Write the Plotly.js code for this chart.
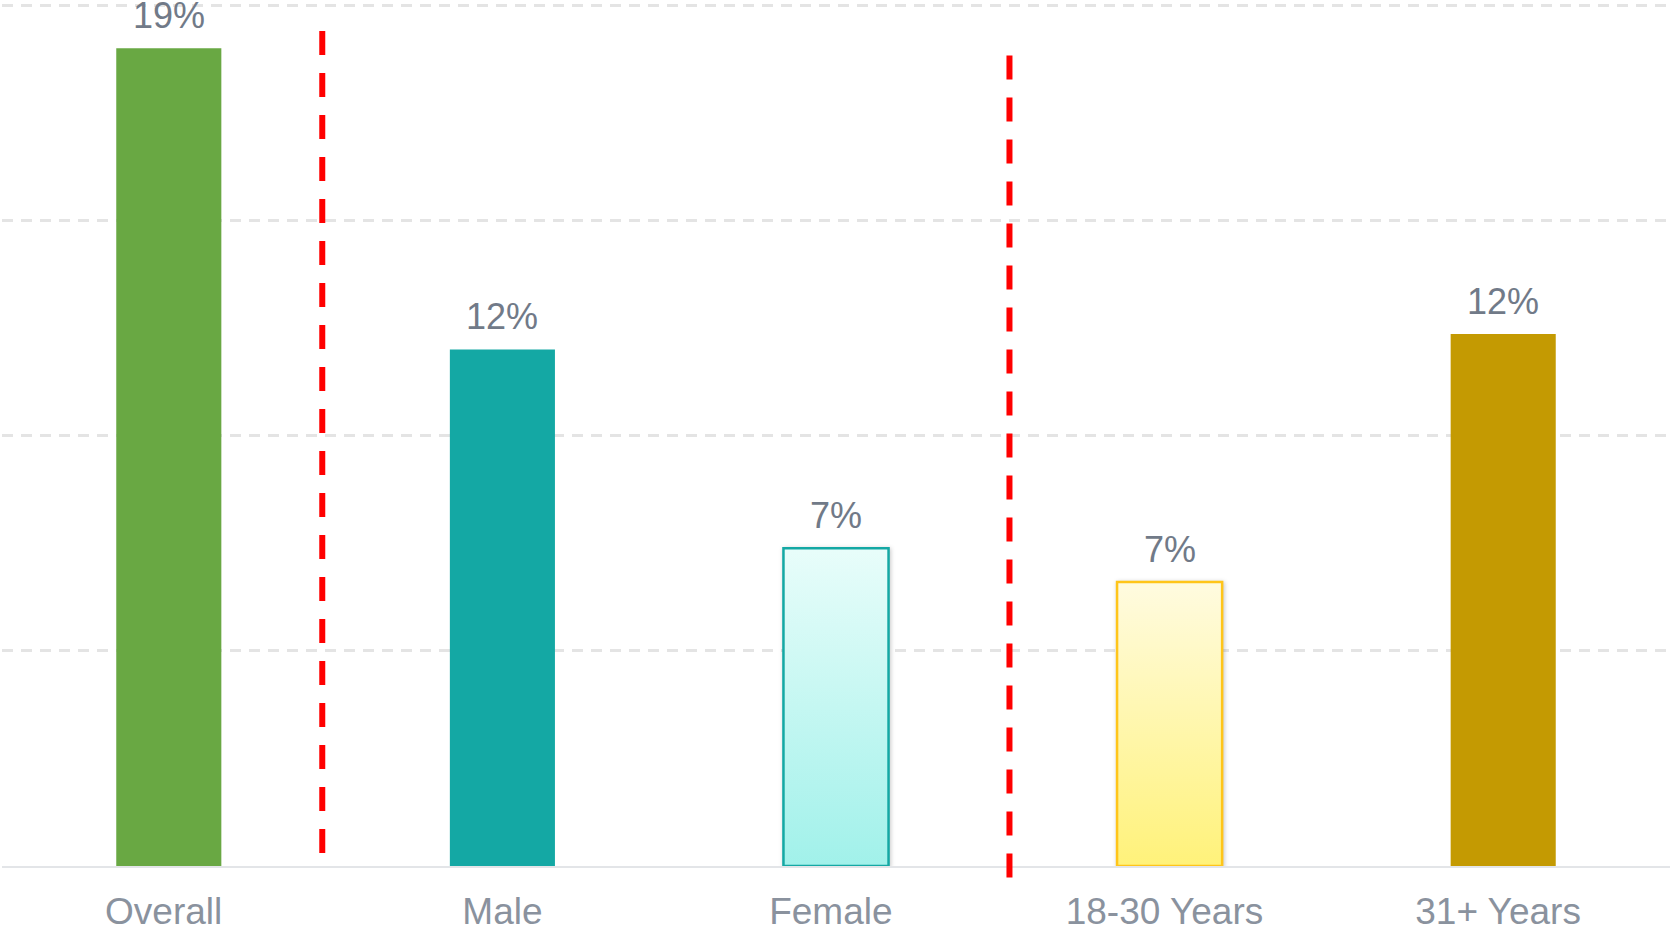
<!DOCTYPE html>
<html>
<head>
<meta charset="utf-8">
<script src="https://cdn.plot.ly/plotly-3.0.1.min.js"></script>
<style>
  html, body { margin: 0; padding: 0; background: #ffffff; }
  #chart { width: 1671px; height: 929px; }
</style>
</head>
<body>
<div id="chart"></div>
<script>
// ---- data ----
const categories = ["Overall", "Male", "Female", "18-30 Years", "31+ Years"];
const values = [19.0, 12.0, 7.38, 6.6, 12.36];
const valueLabels = ["19%", "12%", "7%", "7%", "12%"];

// ---- styles ----
const barColors = ["#69A843", "#14A8A4", "#C8F7F3", "#FFF6A8", "#C49A02"];
const lineColors = ["#69A843", "#14A8A4", "#14A8A4", "#FFC51A", "#C49A02"];
const lineWidths = [0, 0, 2.5, 2.5, 0];
const gradients = {
  2: { id: "gradFemale", top: "#E8FDFA", bottom: "#A1F1EA" },
  3: { id: "gradYoung", top: "#FFFBE0", bottom: "#FFF27A" }
};

const yMax = 20.05;
// separator lines: category-axis position, top & bottom in value units
const separators = [
  { x: 0.46, top: 19.4, bottom: 0.18 },
  { x: 2.52, top: 18.83, bottom: -0.31 }
];

const font = "Liberation Sans, Arial, sans-serif";
// labels sit slightly left of bar centres (except "Male")
const tickText = categories.map(c => c === "Male" ? c : c + "\u00a0");

const trace = {
  type: "bar",
  x: categories,
  y: values,
  marker: {
    color: barColors,
    line: { color: lineColors, width: lineWidths }
  },
  hoverinfo: "skip"
};

const annotations = categories.map((c, i) => ({
  x: c, y: values[i], xref: "x", yref: "y",
  text: valueLabels[i], showarrow: false,
  yanchor: "bottom", yshift: 10,
  font: { family: font, size: 36, color: "#717A88" }
}));

const shapes = separators.map(s => ({
  type: "line", xref: "x", yref: "paper",
  x0: s.x, x1: s.x, y0: s.top / yMax, y1: s.bottom / yMax,
  line: { color: "#FF0000", width: 6, dash: "24px,18px" },
  layer: "above"
}));

const layout = {
  width: 1671, height: 929,
  margin: { l: 2, r: 1, t: 3, b: 63 },
  paper_bgcolor: "#ffffff", plot_bgcolor: "#ffffff",
  bargap: 0.685,
  showlegend: false,
  xaxis: {
    type: "category",
    tickmode: "array", tickvals: categories, ticktext: tickText,
    showline: true, linecolor: "#E3E5E8", linewidth: 2,
    showgrid: false, zeroline: false, ticks: "",
    tickfont: { family: font, size: 37, color: "#8A929E" },
    ticklabelstandoff: 12,
    fixedrange: true
  },
  yaxis: {
    range: [0, yMax],
    dtick: 5, tick0: 0,
    showticklabels: false, ticks: "",
    showgrid: true, gridcolor: "#E4E4E4", gridwidth: 3, griddash: "11px,8px",
    zeroline: false, showline: false,
    fixedrange: true
  },
  annotations: annotations,
  shapes: shapes
};

Plotly.newPlot("chart", [trace], layout, { displayModeBar: false, staticPlot: true }).then(gd => {
  const svg = gd.querySelector("svg.main-svg");
  let defs = svg.querySelector("defs");
  const NS = "http://www.w3.org/2000/svg";
  Object.keys(gradients).forEach(k => {
    const g = gradients[k];
    const lg = document.createElementNS(NS, "linearGradient");
    lg.setAttribute("id", g.id);
    lg.setAttribute("x1", "0"); lg.setAttribute("y1", "0");
    lg.setAttribute("x2", "0"); lg.setAttribute("y2", "1");
    const s1 = document.createElementNS(NS, "stop");
    s1.setAttribute("offset", "0"); s1.setAttribute("stop-color", g.top);
    const s2 = document.createElementNS(NS, "stop");
    s2.setAttribute("offset", "1"); s2.setAttribute("stop-color", g.bottom);
    lg.appendChild(s1); lg.appendChild(s2);
    defs.appendChild(lg);
  });
  const paths = gd.querySelectorAll(".barlayer .trace .point path");
  paths.forEach((p, i) => {
    if (gradients[i]) {
      p.style.fill = "url(#" + gradients[i].id + ")";
      p.style.filter = "drop-shadow(1px 1px 2px rgba(0,0,0,0.22))";
    }
  });
});
</script>
</body>
</html>
